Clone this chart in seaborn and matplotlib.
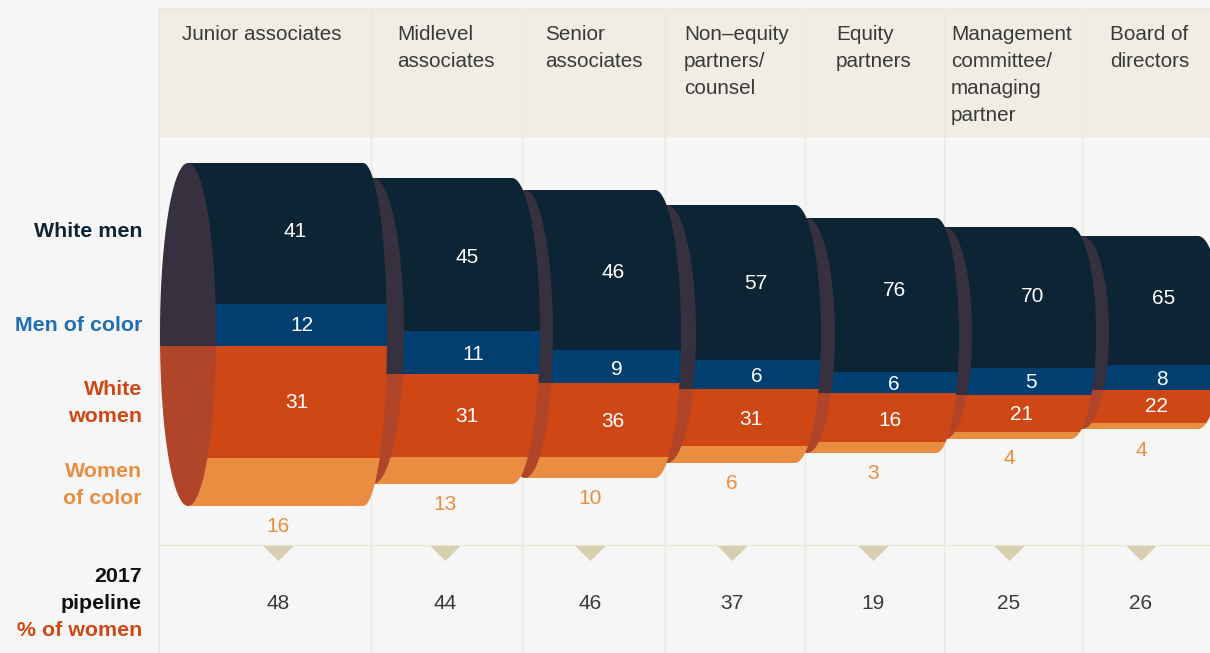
import numpy as np
import pandas as pd
import matplotlib
matplotlib.use('Agg')
import matplotlib.pyplot as plt
from matplotlib.path import Path
import seaborn as sns

stages = ['Junior associates', 'Midlevel\nassociates', 'Senior\nassociates',
          'Non–equity\npartners/\ncounsel', 'Equity\npartners',
          'Management\ncommittee/\nmanaging\npartner', 'Board of\ndirectors']

# percentages printed on the chart
white_men = [41, 45, 46, 57, 76, 70, 65]
men_of_color = [12, 11, 9, 6, 6, 5, 8]
white_women = [31, 31, 36, 31, 16, 21, 22]
women_of_color = [16, 13, 10, 6, 3, 4, 4]
pipeline = [48, 44, 46, 37, 19, 25, 26]

# band thickness as drawn (the source does not scale them strictly to the percentages)
white_men_band = [141, 153, 160, 155, 154, 141, 129]
men_of_color_band = [42, 43, 33, 29, 21, 27, 25]
white_women_band = [112, 83, 74, 57, 49, 37, 33]
women_of_color_band = [48, 27, 21, 17, 11, 7, 6]

# layout, in figure pixels
stage_top = [163, 178, 190, 205, 218, 227, 236]
stage_start = [188, 373, 525, 667, 807, 945, 1082]
stage_corner = [363, 512, 655, 795, 936, 1071, 1198]
stage_bulge = [387, 540, 681, 821, 959, 1096, 1222]
cap_width = [28, 31, 28, 29, 28, 27, 27]
grid_x = [159, 371, 522, 665, 805, 944, 1082]
header_x = [182, 397, 545, 684, 836, 951, 1110]
center_x = [278, 445, 590, 732, 873, 1009, 1141]
white_men_x = [295, 467, 613, 756, 895, 1033, 1164]
men_of_color_x = [302, 473, 617, 757, 894, 1031, 1162]
white_women_x = [297, 467, 613, 751, 890, 1022, 1156]
white_men_y = [230, 256, 271, 282, 289, 295, 297]
men_of_color_y = [324, 353, 368, 375, 383, 381, 378]
white_women_y = [401, 415, 420, 418, 419, 413, 405]
women_of_color_y = [525, 503, 497, 482, 472, 457, 449]

DARK = '#0c2433'
BLUE = '#003f70'
RED = '#cf4715'
ORANGE = '#e98e40'
CAP_DARK = '#37303f'
CAP_RED = '#b0452a'
BG = '#f6f6f6'
HEADER = '#f0ede4'
RULE = '#ebe8dc'
TRI = '#d8cfb0'
TXT = '#3a3a3a'
NUM_SIZE = 15
DY = 1.5

sns.set_theme(style='white')
plt.rcParams['font.family'] = ['Liberation Sans', 'DejaVu Sans']

fig, ax = plt.subplots(figsize=(12.10, 6.53), dpi=100, facecolor=BG)
ax.set_position([0, 0, 1, 1])
ax.set_facecolor(BG)

bands = [(white_men_band, DARK), (men_of_color_band, BLUE),
         (white_women_band, RED), (women_of_color_band, ORANGE)]

# last stage drawn underneath, each one overlaps the cap of the next
for i in range(len(stages) - 1, -1, -1):
    z = 10 + (len(stages) - i) * 2
    total = sum(b[0][i] for b in bands)
    mid_y = stage_top[i] + total / 2
    t = np.linspace(-np.pi / 2, np.pi / 2, 80)
    arc_x = stage_corner[i] + (stage_bulge[i] - stage_corner[i]) * np.cos(t)
    arc_y = mid_y + total / 2 * np.sin(t)
    outline = np.column_stack([
        np.r_[stage_start[i], arc_x, stage_start[i], stage_start[i]],
        np.r_[stage_top[i], arc_y, stage_top[i] + total, stage_top[i]]])
    clip = Path(outline)

    y = stage_top[i]
    for band, color in bands:
        n_before = len(ax.patches)
        sns.barplot(x=[(stage_start[i] + stage_bulge[i]) / 2], y=[band[i]], bottom=y,
                    width=stage_bulge[i] - stage_start[i], native_scale=True, orient='x',
                    color=color, saturation=1, errorbar=None, ax=ax)
        for p in ax.patches[n_before:]:
            p.set_zorder(z)
            p.set_linewidth(0)
            p.set_clip_path(clip, ax.transData)
        y += band[i]

    # left cap of the cylinder, split where the women start
    split = stage_top[i] + white_men_band[i] + men_of_color_band[i]
    a = np.linspace(0, 2 * np.pi, 200)
    cap_x = stage_start[i] + cap_width[i] * np.cos(a)
    cap_y = mid_y + total / 2 * np.sin(a)
    ax.fill(cap_x, np.minimum(cap_y, split), color=CAP_DARK, lw=0, zorder=z + 1)
    ax.fill(cap_x, np.maximum(cap_y, split), color=CAP_RED, lw=0, zorder=z + 1)

    ax.text(white_men_x[i], white_men_y[i] + DY, str(white_men[i]),
            color='white', fontsize=NUM_SIZE, ha='center', va='center', zorder=50)
    ax.text(men_of_color_x[i], men_of_color_y[i] + DY, str(men_of_color[i]),
            color='white', fontsize=NUM_SIZE, ha='center', va='center', zorder=50)
    ax.text(white_women_x[i], white_women_y[i] + DY, str(white_women[i]),
            color='white', fontsize=NUM_SIZE, ha='center', va='center', zorder=50)
    ax.text(center_x[i], women_of_color_y[i] + DY, str(women_of_color[i]),
            color=ORANGE, fontsize=NUM_SIZE, ha='center', va='center', zorder=50)
    ax.text(center_x[i], 602 + DY, str(pipeline[i]),
            color=TXT, fontsize=NUM_SIZE, ha='center', va='center', zorder=50)

    for j, line in enumerate(stages[i].split('\n')):
        ax.text(header_x[i], 33 + j * 27 + DY, line, color=TXT, fontsize=14.9,
                ha='left', va='center', zorder=50)

# header band and grid
ax.fill_between([159, 1210], 8, 137, color=HEADER, lw=0, zorder=1)
ax.vlines(grid_x, 8, 653, color=RULE, lw=1, zorder=2)
ax.hlines(545, 159, 1210, color=RULE, lw=1, zorder=2)
ax.hlines(8, 159, 1210, color=RULE, lw=1, zorder=2)

# pipeline markers, flat side on the rule
tri = Path([(-1, 0.5), (1, 0.5), (0, -0.5), (-1, 0.5)])
sns.scatterplot(x=center_x, y=[552.5] * len(center_x), marker=tri, s=467, color=TRI,
                linewidth=0, zorder=5, ax=ax, legend=False)

left_labels = [('White men', 230, DARK), ('Men of color', 324, '#1f6fb2'),
               ('White', 388, RED), ('women', 415, RED),
               ('Women', 470, ORANGE), ('of color', 497, ORANGE),
               ('2017', 575, '#111111'), ('pipeline', 602, '#111111'),
               ('% of women', 629, RED)]
for label, y, color in left_labels:
    ax.text(142, y + DY, label, color=color, fontsize=15.4, fontweight='bold',
            ha='right', va='center', zorder=50)

ax.set_xlim(0, 1210)
ax.set_ylim(653, 0)
ax.set_axis_off()

fig.savefig('out.png', dpi=100, facecolor=BG)
